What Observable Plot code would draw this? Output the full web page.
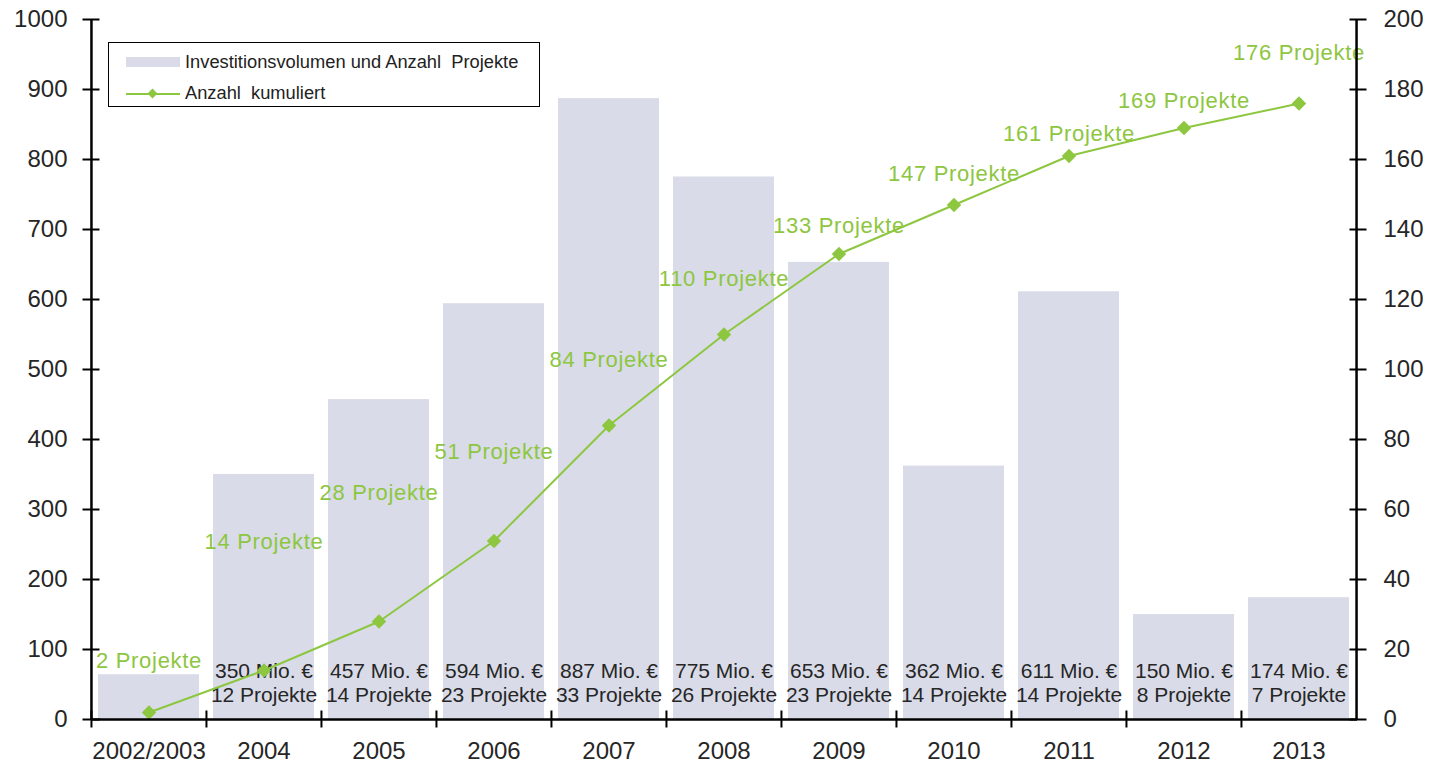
<!DOCTYPE html>
<html><head><meta charset="utf-8">
<script src="https://cdn.jsdelivr.net/npm/d3@7"></script>
<script src="https://cdn.jsdelivr.net/npm/@observablehq/plot@0.6"></script>
<style>
body{margin:0;background:#fff;font-family:"Liberation Sans",Arial,sans-serif}
#wrap{position:relative;width:1429px;height:765px}
#legend{position:absolute;left:108px;top:42px;width:432px;height:65px;border:1.6px solid #000;background:#fff;font-size:18.3px;color:#222;box-sizing:border-box}
#legend .sw{position:absolute;left:17px;top:14px;width:54px;height:10px;background:#D9DCE8}
#legend .ln{position:absolute;left:17px;top:50px;width:54px;height:2px;background:#8DC63F}
#legend .dm{position:absolute;left:40px;top:47px;width:7px;height:7px;background:#8DC63F;transform:rotate(45deg)}
#legend .t1{position:absolute;left:76px;top:8px}
#legend .t2{position:absolute;left:76px;top:39px}
#chart g[fill="#8DC63F"] text{letter-spacing:0.7px}
</style></head><body>
<div id="wrap"><div id="chart"></div>
<div id="legend"><div class="sw"></div><div class="t1">Investitionsvolumen und Anzahl&nbsp; Projekte</div><div class="ln"></div><div class="dm"></div><div class="t2">Anzahl&nbsp; kumuliert</div></div>
</div>
<script>
const years = ["2002/2003","2004","2005","2006","2007","2008","2009","2010","2011","2012","2013"];
const invest = [64,350,457,594,887,775,653,362,611,150,174];        // Mio. €
const projects = [2,12,14,23,33,26,23,14,14,8,7];                  // Projekte pro Jahr
const cumulative = [2,14,28,51,84,110,133,147,161,169,176];        // Anzahl kumuliert
const cumLabelAt = [16.6,50.6,64.6,76.3,102.6,126,141,156,167.4,176.6,190.3]; // label height, right-axis units
const leftTicks = [0,100,200,300,400,500,600,700,800,900,1000];
const rightTicks = [0,20,40,60,80,100,120,140,160,180,200];

const leftMax = 1000, rightMax = 200, k = leftMax / rightMax;
const green = "#8DC63F", barFill = "#D9DCE8", ink = "#262626";
const W = 1429, H = 765, mL = 91, mR = 72, mT = 19, mB = 46;
const step = (W - mL - mR) / years.length;
const tk = 17; // full tick length (crossing the axis line)

const data = years.map((y, i) => ({year: y, invest: invest[i], projects: projects[i], cum: cumulative[i], labelAt: cumLabelAt[i], idx: i}));
const rightTickPos = rightTicks.map(v => v * k);

const chart = Plot.plot({
  width: W, height: H,
  marginLeft: mL, marginRight: mR, marginTop: mT, marginBottom: mB,
  style: {fontFamily: "'Liberation Sans', Arial, sans-serif", color: ink, background: "#fff", overflow: "visible"},
  x: {domain: years, paddingInner: 0.12, paddingOuter: 0.06, label: null},
  y: {domain: [0, leftMax], label: null},
  marks: [
    Plot.barY(data, {x: "year", y: "invest", fill: barFill}),
    Plot.text(data.filter(d => d.idx > 0), {
      x: "year", y: 0,
      text: d => `${d.invest} Mio. €\n${d.projects} Projekte`,
      lineAnchor: "bottom", lineHeight: 1.1, dy: -18,
      fontSize: 21, fill: ink
    }),
    Plot.line(data, {x: "year", y: d => d.cum * k, stroke: green, strokeWidth: 2}),
    Plot.dot(data, {x: "year", y: d => d.cum * k, symbol: "diamond2", r: 6.5, fill: green, stroke: "none"}),
    Plot.text(data, {
      x: "year", y: d => d.labelAt * k,
      text: d => `${d.cum} Projekte`,
      fontSize: 22, fill: green
    }),
    // axis lines
    Plot.ruleY([0], {stroke: "#000", strokeWidth: 2.5}),
    Plot.ruleX([years[0]], {dx: -step / 2, stroke: "#000", strokeWidth: 2.5}),
    Plot.ruleX([years[years.length - 1]], {dx: step / 2, stroke: "#000", strokeWidth: 2.5}),
    // left axis
    Plot.axisY({anchor: "left", ticks: leftTicks, tickSize: 0, tickPadding: 24, fontSize: 24, tickFormat: d => String(d), fill: ink}),
    Plot.axisY({anchor: "left", ticks: leftTicks, tickSize: tk, dx: tk / 2, tickFormat: () => "", stroke: "#000", strokeWidth: 2}),
    // right axis
    Plot.axisY({anchor: "right", ticks: rightTickPos, tickSize: 0, tickPadding: 26, fontSize: 24, tickFormat: v => String(v / k), fill: ink}),
    Plot.axisY({anchor: "right", ticks: rightTickPos, tickSize: tk, dx: -tk / 2, tickFormat: () => "", stroke: "#000", strokeWidth: 2}),
    // x axis
    Plot.axisX({tickSize: 0, tickPadding: 22, fontSize: 24, fill: ink}),
    Plot.axisX({tickSize: tk, dx: -step / 2, dy: -tk / 2, tickFormat: () => "", stroke: "#000", strokeWidth: 2})
  ]
});
document.getElementById("chart").append(chart);
</script>
</body></html>
